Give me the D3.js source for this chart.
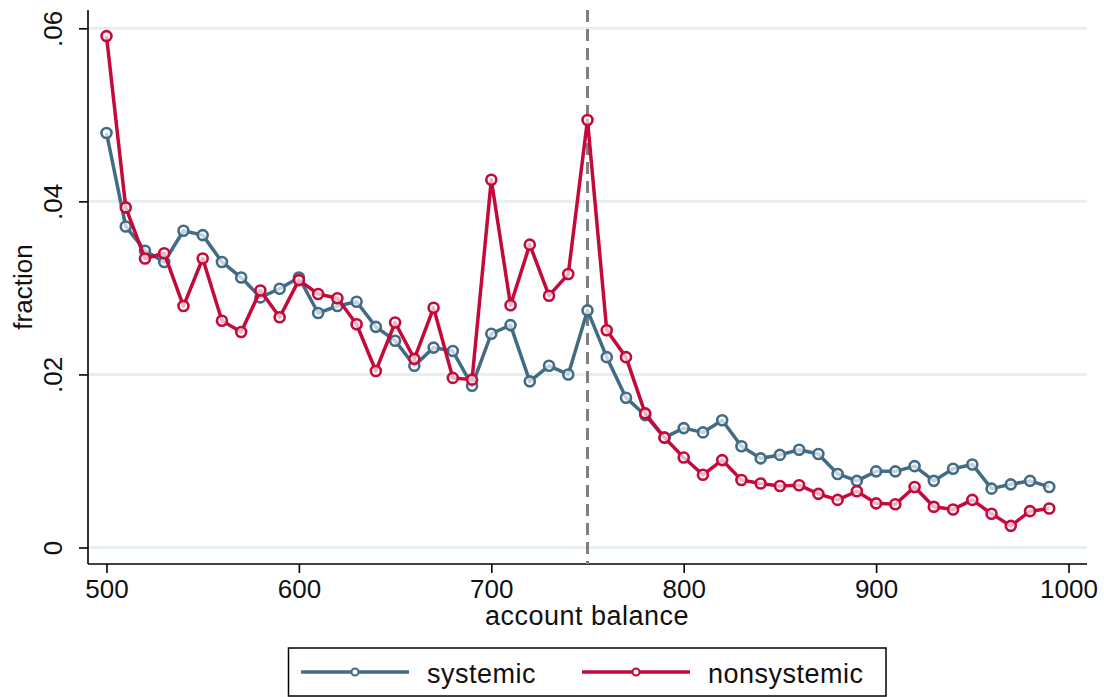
<!DOCTYPE html>
<html>
<head>
<meta charset="utf-8">
<script src="https://cdn.jsdelivr.net/npm/d3@7"></script>
<style>
  body { margin: 0; background: #fff; }
  svg { display: block; }
  text { font-family: "Liberation Sans", Arial, sans-serif; fill: #111; }
</style>
</head>
<body>
<svg id="chart" width="1104" height="697"></svg>
<script>
// account balance bins
const balance = [500, 510, 520, 530, 540, 550, 560, 570, 580, 590,
  600, 610, 620, 630, 640, 650, 660, 670, 680, 690,
  700, 710, 720, 730, 740, 750, 760, 770, 780, 790,
  800, 810, 820, 830, 840, 850, 860, 870, 880, 890,
  900, 910, 920, 930, 940, 950, 960, 970, 980, 990];

const systemic = [.0479, .0371, .0343, .0330, .0366, .0361, .0330, .0312, .0289, .0299,
  .0312, .0271, .0279, .0284, .0255, .0239, .0210, .0231, .0227, .0187,
  .0247, .0257, .0192, .0210, .0200, .0274, .0220, .0173, .0153, .0127,
  .0138, .0133, .0147, .0117, .0103, .0107, .0113, .0108, .0085, .0077,
  .0088, .0088, .0094, .0077, .0091, .0096, .0068, .0073, .0077, .0070];

const nonsystemic = [.0591, .0393, .0334, .0340, .0279, .0334, .0262, .0249, .0297, .0266,
  .0309, .0293, .0288, .0258, .0204, .0260, .0218, .0277, .0196, .0194,
  .0425, .0280, .0350, .0291, .0316, .0494, .0251, .0220, .0155, .0127,
  .0104, .0084, .0101, .0078, .0074, .0071, .0072, .0062, .0055, .0065,
  .0051, .0050, .0070, .0047, .0044, .0055, .0039, .0025, .0042, .0045];

const xTicks = [500, 600, 700, 800, 900, 1000];
const yTicks = [0, .02, .04, .06];
const cutoff = 750;

const series = [
  { name: "systemic", values: systemic, color: "#426b85" },
  { name: "nonsystemic", values: nonsystemic, color: "#c40a3a" }
];

const svg = d3.select("#chart");

const x = d3.scaleLinear().domain([500, 1000]).range([106.5, 1068.5]);
const y = d3.scaleLinear().domain([0, .06]).range([547.5, 28.3]);

const plotLeft = 88, plotRight = 1087, plotTop = 10, plotBottom = 564;

// gridlines
svg.append("g")
  .selectAll("line")
  .data(yTicks)
  .enter()
  .append("line")
  .attr("x1", plotLeft).attr("x2", plotRight)
  .attr("y1", d => y(d)).attr("y2", d => y(d))
  .attr("stroke", "#e7eff1")
  .attr("stroke-width", 3);

// y axis
const yAxis = svg.append("g")
  .attr("transform", "translate(" + plotLeft + ",0)")
  .call(d3.axisLeft(y).tickValues(yTicks).tickSize(9).tickPadding(0)
    .tickFormat(d => d === 0 ? "0" : d3.format(".2f")(d).replace(/^0/, "")));
yAxis.select(".domain").attr("d", "M0," + plotTop + "V" + plotBottom).attr("stroke", "#000").attr("stroke-width", 1.6);
yAxis.selectAll(".tick line").attr("stroke", "#000").attr("stroke-width", 1.6);
yAxis.selectAll(".tick text")
  .attr("x", 0).attr("y", 0).attr("dy", 0)
  .attr("text-anchor", "middle")
  .attr("transform", "translate(-26,0) rotate(-90)")
  .style("font-size", "26px")
  .style("font-family", "Liberation Sans, Arial, sans-serif")
  .attr("fill", "#111");

// x axis
const xAxis = svg.append("g")
  .attr("transform", "translate(0," + plotBottom + ")")
  .call(d3.axisBottom(x).tickValues(xTicks).tickSize(9).tickPadding(6)
    .tickFormat(d3.format("d")));
xAxis.select(".domain").attr("d", "M" + plotLeft + ",0H" + plotRight).attr("stroke", "#000").attr("stroke-width", 1.6);
xAxis.selectAll(".tick line").attr("stroke", "#000").attr("stroke-width", 1.6);
xAxis.selectAll(".tick text")
  .attr("y", 34).attr("dy", 0)
  .style("font-size", "26px")
  .style("font-family", "Liberation Sans, Arial, sans-serif")
  .attr("fill", "#111");

// axis titles
svg.append("text")
  .attr("x", 587)
  .attr("y", 625)
  .attr("text-anchor", "middle")
  .style("font-size", "27px")
  .style("letter-spacing", "0.5px")
  .text("account balance");

svg.append("text")
  .attr("transform", "translate(32,287) rotate(-90)")
  .attr("text-anchor", "middle")
  .style("font-size", "26px")
  .text("fraction");

// cutoff line
svg.append("line")
  .attr("x1", x(cutoff)).attr("x2", x(cutoff))
  .attr("y1", plotTop).attr("y2", plotBottom)
  .attr("stroke", "#7f7f7f")
  .attr("stroke-width", 3)
  .attr("stroke-dasharray", "12,7");

// series
const line = d3.line()
  .x((d, i) => x(balance[i]))
  .y(d => y(d));

series.forEach(s => {
  const g = svg.append("g");
  g.append("path")
    .datum(s.values)
    .attr("d", line)
    .attr("fill", "none")
    .attr("stroke", s.color)
    .attr("stroke-width", 3.5)
    .attr("stroke-linejoin", "round");
  g.selectAll("circle")
    .data(s.values)
    .enter()
    .append("circle")
    .attr("cx", (d, i) => x(balance[i]))
    .attr("cy", d => y(d))
    .attr("r", 5)
    .attr("fill", "#fff")
    .attr("fill-opacity", 0.7)
    .attr("stroke", s.color)
    .attr("stroke-width", 2.6);
});

// legend
const legend = svg.append("g");
legend.append("rect")
  .attr("x", 288.5).attr("y", 648)
  .attr("width", 597.5).attr("height", 48)
  .attr("fill", "#fff")
  .attr("stroke", "#000")
  .attr("stroke-width", 1.5);

const legendX = [301, 582];
series.forEach((s, i) => {
  const lx = legendX[i];
  legend.append("line")
    .attr("x1", lx).attr("x2", lx + 108)
    .attr("y1", 672).attr("y2", 672)
    .attr("stroke", s.color)
    .attr("stroke-width", 3.5);
  legend.append("circle")
    .attr("cx", lx + 54).attr("cy", 672)
    .attr("r", 3.5)
    .attr("fill", "#fff")
    .attr("stroke", s.color)
    .attr("stroke-width", 2);
  legend.append("text")
    .attr("x", lx + 126)
    .attr("y", 683)
    .style("font-size", "27px")
    .style("letter-spacing", "0.5px")
    .text(s.name);
});
</script>
</body>
</html>
